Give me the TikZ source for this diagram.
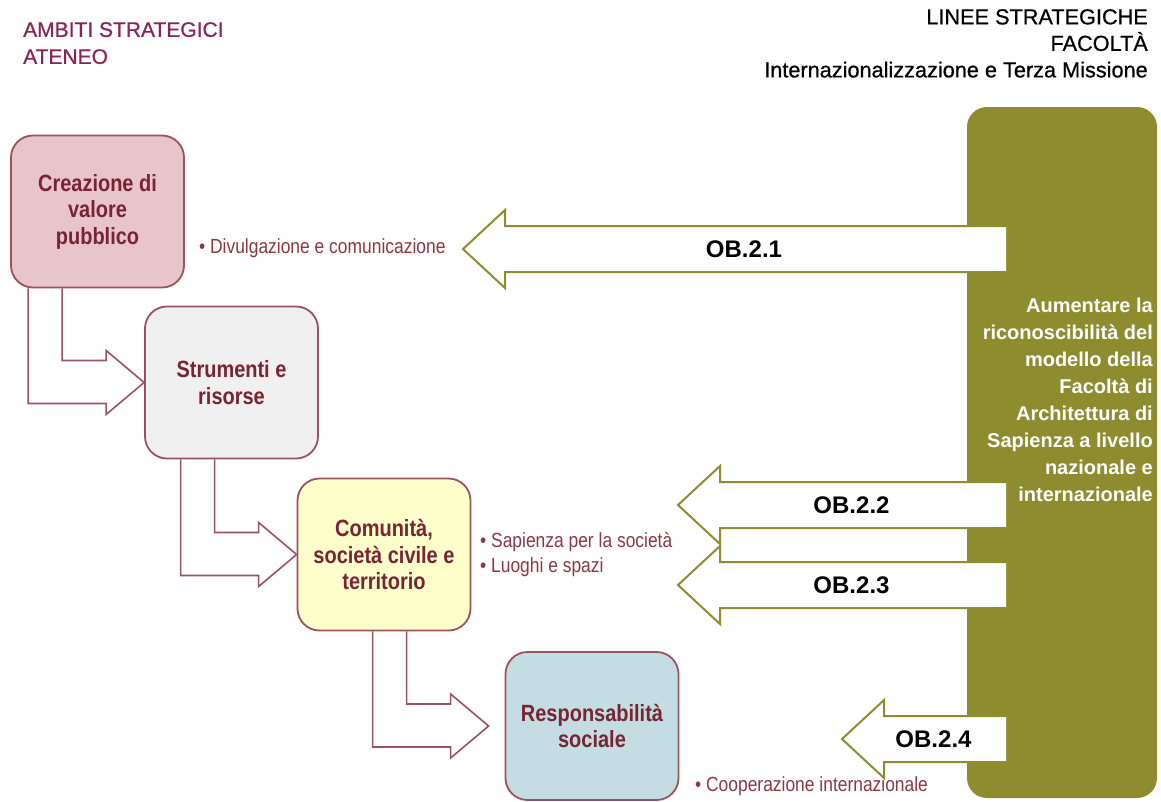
\documentclass[tikz,border=0pt]{standalone}
\usepackage{fontspec}
\setmainfont{Liberation Sans}
\newfontfamily\narrowsf[FakeStretch=0.85]{Liberation Sans}
\newfontfamily\titlesf[FakeBold=0.7]{Liberation Sans}
\usepackage{xcolor}
\usetikzlibrary{calc, backgrounds}
\definecolor{titlemaroon}{RGB}{139, 35, 87}
\definecolor{boxline}{RGB}{155, 82, 95}
\definecolor{boxtext}{RGB}{120, 36, 50}
\definecolor{labeltext}{RGB}{140, 55, 70}
\definecolor{fillpink}{RGB}{232, 196, 203}
\definecolor{fillgrey}{RGB}{240, 240, 240}
\definecolor{fillyellow}{RGB}{255, 255, 204}
\definecolor{fillblue}{RGB}{196, 221, 226}
\definecolor{paneolive}{RGB}{143, 140, 47}

\tikzset{
    areabox/.style={rectangle, rounded corners=22pt, draw=boxline, line width=1.8pt,
        minimum width=173pt, minimum height=152pt, align=center, text=boxtext,
        font=\narrowsf\bfseries\fontsize{23.5}{26.5}\selectfont},
    bulletlab/.style={anchor=west, inner sep=0pt, align=left, text=labeltext,
        font=\narrowsf\fontsize{20.5}{25}\selectfont},
    bentarr/.style={draw=boxline, line width=1.6pt, fill=white},
    obarr/.style={draw=paneolive, line width=2pt, fill=white, line join=miter},
    oblabel/.style={inner sep=0pt, font=\bfseries\fontsize{24}{28}\selectfont}
}

% bent block arrow: source box, target box, gap before target
\newcommand{\bentarrow}[3]{%
    \draw[bentarr] let \p1=(#1.south), \p2=(#2.west) in
        (\x2-#3-116,\y1) -- (\x2-#3-116,\y2-21) -- (\x2-#3-38,\y2-21) -- (\x2-#3-38,\y2-32)
        -- (\x2-#3,\y2) -- (\x2-#3-38,\y2+32) -- (\x2-#3-38,\y2+22)
        -- (\x2-#3-82,\y2+22) -- (\x2-#3-82,\y1);
}
% objective arrow out of the panel: name, tip x, tip y, label
\newcommand{\obarrow}[4]{%
    \draw[obarr] (1006,#3-23) -- (#2+42,#3-23) -- (#2+42,#3-39) -- (#2,#3)
        -- (#2+42,#3+39) -- (#2+42,#3+23) -- (1006,#3+23);
    \node (#1) [oblabel] at ({(#2+42+967)/2+8},#3) {#4};
}

\begin{document}
\begin{tikzpicture}[x=1pt, y=-1pt]
    \useasboundingbox (0,0) rectangle (1161,801);

    % titles
    \node (ateneo) [anchor=north west, inner sep=0pt, align=left, text=titlemaroon,
        font=\titlesf\fontsize{21}{27}\selectfont] at (23,22) {AMBITI STRATEGICI\\ATENEO};
    \node (facolta) [anchor=north east, inner sep=0pt, align=right,
        font=\titlesf\fontsize{21.7}{26.5}\selectfont] at (1148,9)
        {LINEE STRATEGICHE\\FACOLTÀ\\Internazionalizzazione e Terza Missione};

    % ambiti
    \node (crea) [areabox, fill=fillpink] at (97.5,211.5) {Creazione di\\valore\\pubblico};
    \node (strum) [areabox, fill=fillgrey] at (231.5,382.5) {Strumenti e\\risorse};
    \node (comun) [areabox, fill=fillyellow] at (384,554.5) {Comunità,\\società civile e\\territorio};
    \node (resp) [areabox, fill=fillblue, minimum height=148pt] at (592,726) {Responsabilità\\sociale};

    \begin{scope}[on background layer]
        \bentarrow{crea}{strum}{0}
        \bentarrow{strum}{comun}{0}
        \bentarrow{comun}{resp}{16}
    \end{scope}

    \node (divlab) [bulletlab] at (199,248) {\textbullet\ Divulgazione e comunicazione};
    \node (socilab) [bulletlab] at (480,555) {\textbullet\ Sapienza per la società\\\textbullet\ Luoghi e spazi};
    \node (cooplab) [bulletlab] at (695,786) {\textbullet\ Cooperazione internazionale};

    % linea strategica
    \node (panel) [rectangle, rounded corners=20pt, fill=paneolive,
        minimum width=190pt, minimum height=691pt] at (1062,452.5) {};
    \node (aim) [anchor=east, inner sep=0pt, align=right, text=white,
        font=\bfseries\fontsize{20}{27}\selectfont] at (1153,400)
        {Aumentare la\\riconoscibilità del\\modello della\\Facoltà di\\Architettura di\\Sapienza a livello\\nazionale e\\internazionale};

    \obarrow{ob21}{463}{249}{OB.2.1}
    \obarrow{ob22}{678}{505}{OB.2.2}
    \obarrow{ob23}{678}{585}{OB.2.3}
    \obarrow{ob24}{842}{739}{OB.2.4}
\end{tikzpicture}
\end{document}
